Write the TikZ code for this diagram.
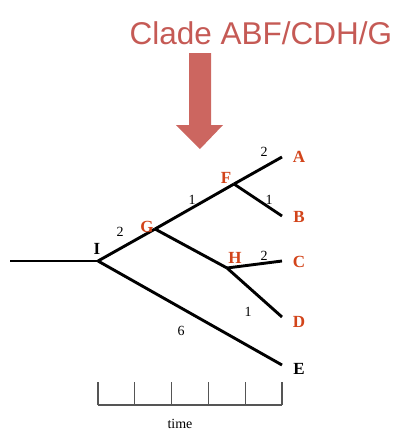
\documentclass[tikz,border=0pt]{standalone}
\usepackage{fontspec}
\setmainfont{Liberation Serif}
\newfontfamily\titlefont{Liberation Sans}
\definecolor{titlered}{HTML}{C55A55}
\definecolor{arrowred}{HTML}{CC6660}
\definecolor{nodered}{HTML}{D2441A}
\definecolor{axisgray}{HTML}{555555}
\begin{document}
\begin{tikzpicture}[x=1pt,y=-1pt,
  branch/.style={line width=2.9pt, black},
  taxon/.style={font=\fontsize{17}{17}\selectfont\bfseries, text=nodered, inner sep=0pt},
  blk/.style={font=\fontsize{17}{17}\selectfont\bfseries, text=black, inner sep=0pt},
  len/.style={font=\fontsize{14}{14}\selectfont, inner sep=0pt},
  axis/.style={line width=1.2pt, axisgray}]
\useasboundingbox (0,0) rectangle (398,434);
% title
\node[font=\titlefont\fontsize{31.5}{31.5}\selectfont, text=titlered, inner sep=0pt] (title) at (261,33) {Clade ABF/CDH/G};
% big arrow
\fill[arrowred] (189,53) -- (211,53) -- (211,125) -- (223,125) -- (200,149) -- (176,125) -- (189,125) -- cycle;
% tree coordinates
\coordinate (root) at (10,261);
\coordinate (I) at (98,261);
\coordinate (G) at (155,229);
\coordinate (F) at (234,184);
\coordinate (H) at (227,268);
\coordinate (Ae) at (282,157);
\coordinate (Be) at (282,216);
\coordinate (Ce) at (282,261);
\coordinate (De) at (282,317);
\coordinate (Ee) at (282,365);
\draw[branch] (root) -- (I);
\draw[branch] (I) -- (G);
\draw[branch] (G) -- (F);
\draw[branch] (F) -- (Ae);
\draw[branch] (F) -- (Be);
\draw[branch] (G) -- (H);
\draw[branch] (H) -- (Ce);
\draw[branch] (H) -- (De);
\draw[branch] (I) -- (Ee);
% node labels
\node[blk] (Il) at (97,249) {I};
\node[taxon] (Gl) at (147,227) {G};
\node[taxon] (Fl) at (226,178) {F};
\node[taxon] (Hl) at (235,258) {H};
\node[taxon] (A) at (299,157) {A};
\node[taxon] (B) at (299,217) {B};
\node[taxon] (C) at (299,262) {C};
\node[taxon] (D) at (299,322) {D};
\node[blk] (E) at (299,369) {E};
% branch lengths
\node[len] (l1) at (264,152) {2};
\node[len] (l2) at (192,200) {1};
\node[len] (l3) at (269,200) {1};
\node[len] (l4) at (120,232) {2};
\node[len] (l5) at (264,256) {2};
\node[len] (l6) at (248,312) {1};
\node[len] (l7) at (181,331) {6};
% time axis
\coordinate (t0) at (98,405);
\coordinate (t5) at (282,405);
\draw[axis] (t0) -- (t5);
\foreach \x in {98,134.8,171.6,208.4,245.2,282} {
  \draw[axis] (\x,405) -- (\x,382);
}
\node[len] (time) at (180,424) {time};
\end{tikzpicture}
\end{document}
